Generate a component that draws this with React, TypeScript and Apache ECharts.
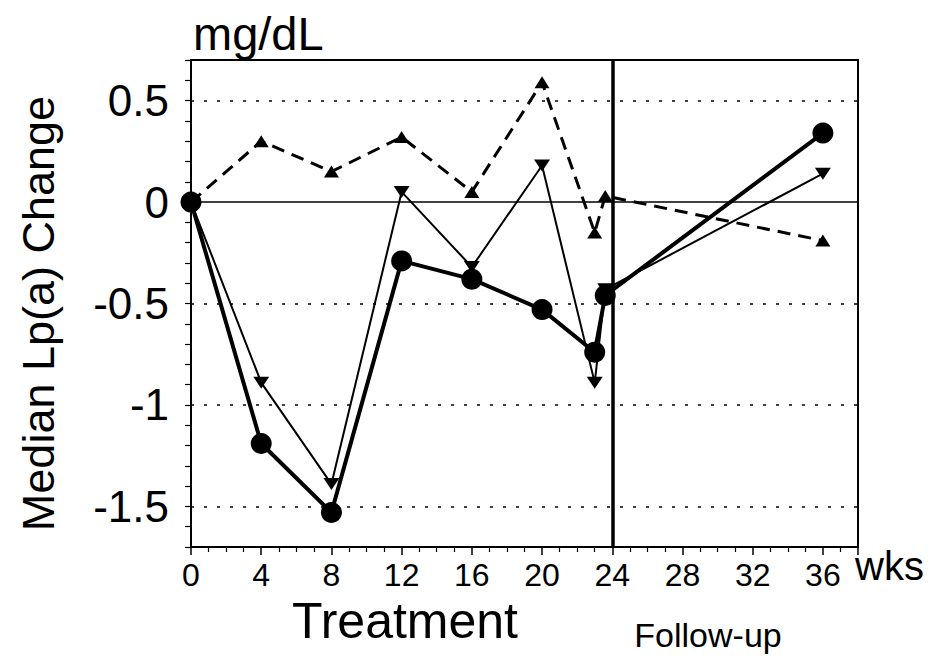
import React, { useEffect, useRef } from "react";
import * as echarts from "echarts";

// Weeks at which the medians were measured
const weeks = [0, 4, 8, 12, 16, 20, 23, 23.6, 36];
// Three groups
const circleValues = [0, -1.19, -1.53, -0.29, -0.38, -0.53, -0.74, -0.46, 0.34];
const downTriValues = [0, -0.89, -1.39, 0.05, -0.32, 0.18, -0.89, -0.43, 0.14];
const upTriValues = [0, 0.3, 0.15, 0.32, 0.05, 0.59, -0.15, 0.03, -0.19];
// Reference lines
const dottedGridValues = [0.5, -0.5, -1, -1.5];
const zeroValue = 0;
const followUpStartWeek = 24;
// Axis labels
const xTickLabels = ["0", "4", "8", "12", "16", "20", "24", "28", "32", "36"];
const yTickLabels = ["0.5", "0", "-0.5", "-1", "-1.5"];

const SANS = "'Liberation Sans', Arial, Helvetica, sans-serif";
const NARROW = "'Liberation Sans Narrow', 'Arial Narrow', 'Liberation Sans', Arial, sans-serif";

function pairs(vals: number[]) {
  return weeks.map((w, i) => [w, vals[i]]);
}

export default function App() {
  const ref = useRef<HTMLDivElement>(null);
  useEffect(() => {
    if (!ref.current) return;
    const chart = echarts.init(ref.current, undefined, { renderer: "svg" });
    const option: any = {
      animation: false,
      backgroundColor: "#ffffff",
      grid: {
        left: 191,
        top: 60,
        right: 81,
        bottom: 115,
        show: true,
        borderColor: "#000",
        borderWidth: 2,
        backgroundColor: "transparent",
      },
      xAxis: {
        type: "value",
        min: 0,
        max: 38,
        interval: 4,
        axisLine: { show: true, onZero: false, lineStyle: { color: "#000", width: 2 } },
        axisTick: { show: true, length: 8, lineStyle: { color: "#000", width: 1.5 } },
        minorTick: { show: true, splitNumber: 4, length: 5, lineStyle: { color: "#000", width: 1.2 } },
        splitLine: { show: false },
        minorSplitLine: { show: false },
        axisLabel: {
          color: "#000",
          fontSize: 32,
          fontFamily: SANS,
          margin: 12,
          formatter: (v: number) => {
            const s = String(Math.round(v));
            return Math.abs(v % 4) < 1e-6 && xTickLabels.includes(s) ? s : "";
          },
        },
      },
      yAxis: {
        type: "value",
        min: -1.7,
        max: 0.7,
        interval: 0.1,
        name: "Median Lp(a) Change",
        nameLocation: "middle",
        nameGap: 130,
        nameTextStyle: { color: "#000", fontSize: 45, fontFamily: SANS, padding: [0, 20, 0, 0] },
        axisLine: { show: true, onZero: false, lineStyle: { color: "#000", width: 2 } },
        axisTick: { show: true, length: 6, lineStyle: { color: "#000", width: 1.2 } },
        splitLine: { show: false },
        axisLabel: {
          color: "#000",
          fontSize: 44,
          fontFamily: SANS,
          margin: 22,
          formatter: (v: number) => {
            const r = Math.round(v * 10) / 10;
            const s = String(r);
            return Math.abs(r * 2 - Math.round(r * 2)) < 1e-6 && yTickLabels.includes(s) ? s : "";
          },
        },
      },
      graphic: [
        {
          type: "text",
          left: 193,
          top: 10,
          style: { text: "mg/dL", fontSize: 47, fontFamily: SANS, fill: "#000" },
        },
        {
          type: "text",
          left: 855,
          top: 546,
          style: { text: "wks", fontSize: 40, fontFamily: NARROW, fill: "#000" },
        },
        {
          type: "text",
          x: 405,
          y: 621,
          style: {
            text: "Treatment",
            fontSize: 50,
            fontFamily: NARROW,
            fill: "#000",
            align: "center",
            verticalAlign: "middle",
          },
        },
        {
          type: "text",
          x: 708,
          y: 635,
          style: {
            text: "Follow-up",
            fontSize: 34,
            fontFamily: NARROW,
            fill: "#000",
            align: "center",
            verticalAlign: "middle",
          },
        },
      ],
      series: [
        {
          name: "up",
          type: "line",
          data: pairs(upTriValues),
          symbol: "triangle",
          symbolSize: [15, 12],
          lineStyle: { color: "#000", width: 3, type: [13, 8] },
          itemStyle: { color: "#000" },
          markLine: {
            silent: true,
            symbol: "none",
            label: { show: false },
            data: [
              ...dottedGridValues.map((v) => ({
                yAxis: v,
                lineStyle: { color: "#000", width: 1.5, type: [3, 10] },
              })),
              { yAxis: zeroValue, lineStyle: { color: "#000", width: 1.5, type: "solid" } },
              { xAxis: followUpStartWeek, lineStyle: { color: "#000", width: 3.5, type: "solid" } },
            ],
          },
          z: 2,
        },
        {
          name: "down",
          type: "line",
          data: pairs(downTriValues),
          symbol: "triangle",
          symbolRotate: 180,
          symbolSize: [16, 12],
          lineStyle: { color: "#000", width: 2 },
          itemStyle: { color: "#000" },
          z: 3,
        },
        {
          name: "circle",
          type: "line",
          data: pairs(circleValues),
          symbol: "circle",
          symbolSize: 21,
          lineStyle: { color: "#000", width: 4 },
          itemStyle: { color: "#000" },
          z: 4,
        },
      ],
    };
    chart.setOption(option);
    return () => chart.dispose();
  }, []);
  return (
    <div
      ref={ref}
      style={{ position: "fixed", left: 0, top: 0, width: 939, height: 662, background: "#fff" }}
    />
  );
}
